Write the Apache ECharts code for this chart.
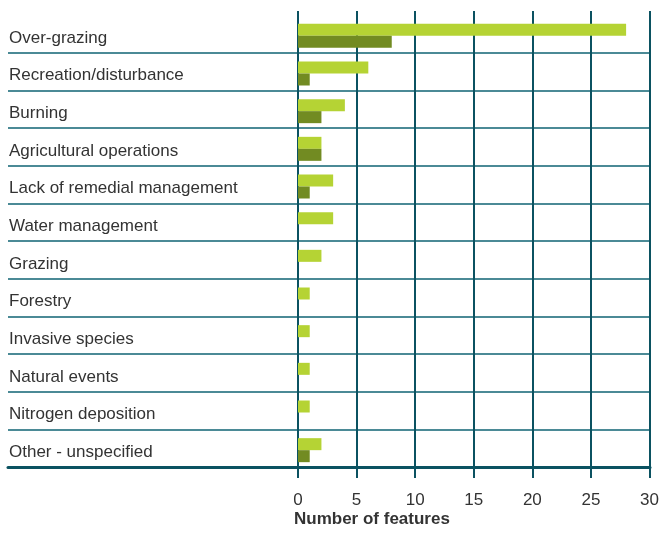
<!DOCTYPE html>
<html>
<head>
<meta charset="utf-8">
<script src="https://cdn.jsdelivr.net/npm/echarts@6/dist/echarts.min.js"></script>
<style>
  html, body { margin: 0; padding: 0; background: #fff; }
  #chart { width: 662px; height: 534px; }
</style>
</head>
<body>
<div id="chart"></div>
<script>
// pressures, top to bottom
const categories = [
  "Over-grazing",
  "Recreation/disturbance",
  "Burning",
  "Agricultural operations",
  "Lack of remedial management",
  "Water management",
  "Grazing",
  "Forestry",
  "Invasive species",
  "Natural events",
  "Nitrogen deposition",
  "Other - unspecified"
];
const lightValues = [28, 6, 4, 2, 3, 3, 2, 1, 1, 1, 1, 2];
const darkValues = [8, 1, 2, 2, 1, 0, 0, 0, 0, 0, 0, 1];
const xTicks = [0, 5, 10, 15, 20, 25, 30];

const teal = "#0b5261";
const font = "Liberation Sans, Arial, sans-serif";

let myChart = echarts.init(document.getElementById("chart"));
myChart.setOption({
  animation: false,
  title: {
    text: "Number of features",
    left: 294,
    top: 511,
    padding: 0,
    textStyle: { fontSize: 17, fontWeight: "bold", color: "#333", fontFamily: font }
  },
  grid: [
    // row separators, full width
    { left: 8, right: 12, top: 15, bottom: 67 },
    // bars and labels (sit ~2px lower than the rows)
    { left: 298, right: 12, top: 17, bottom: 65 }
  ],
  xAxis: [
    {
      gridIndex: 0,
      type: "value",
      min: 0,
      max: 1,
      z: 3,
      axisLabel: { show: false },
      axisTick: { show: false },
      splitLine: { show: false },
      axisLine: { show: true, lineStyle: { color: teal, width: 3 } }
    },
    {
      gridIndex: 1,
      type: "value",
      min: xTicks[0],
      max: xTicks[xTicks.length - 1],
      interval: 5,
      z: 0,
      axisLine: { show: false },
      axisTick: { show: true, length: 9, lineStyle: { color: teal, width: 2 } },
      axisLabel: { margin: 23, fontSize: 17, color: "#333", fontFamily: font },
      splitLine: { show: true, lineStyle: { color: teal, width: 2 } }
    },
    {
      gridIndex: 1,
      type: "value",
      position: "top",
      min: xTicks[0],
      max: xTicks[xTicks.length - 1],
      interval: 5,
      z: 0,
      axisLine: { show: false },
      axisTick: { show: true, length: 6, lineStyle: { color: teal, width: 2 } },
      axisLabel: { show: false },
      splitLine: { show: false }
    }
  ],
  yAxis: [
    {
      gridIndex: 0,
      type: "category",
      inverse: true,
      data: categories,
      z: 0,
      axisLine: { show: false },
      axisTick: { show: false },
      axisLabel: { show: false },
      splitLine: {
        show: true,
        interval: function (index) { return index !== 0; },
        lineStyle: { color: "#4b8a96", width: 2 }
      }
    },
    {
      gridIndex: 1,
      type: "category",
      inverse: true,
      data: categories,
      axisLine: { show: false },
      axisTick: { show: false },
      splitLine: { show: false },
      axisLabel: {
        margin: 289,
        align: "left",
        formatter: "{a|{value}}",
        rich: {
          a: { fontSize: 17, color: "#333", fontFamily: font, padding: [4, 0, 0, 0] }
        }
      }
    }
  ],
  series: [
    {
      type: "bar",
      xAxisIndex: 1,
      yAxisIndex: 1,
      zlevel: 1,
      data: lightValues,
      barWidth: 12,
      barGap: "0%",
      itemStyle: { color: "#b5d334" }
    },
    {
      type: "bar",
      xAxisIndex: 1,
      yAxisIndex: 1,
      zlevel: 1,
      data: darkValues,
      barWidth: 12,
      barGap: "0%",
      itemStyle: { color: "#728b22" }
    }
  ]
});
</script>
</body>
</html>
